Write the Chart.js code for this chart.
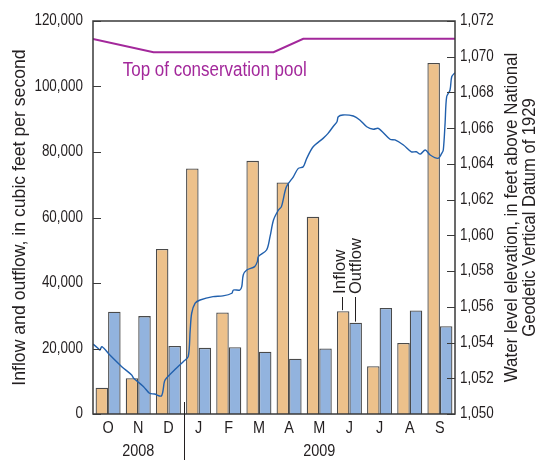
<!DOCTYPE html>
<html>
<head>
<meta charset="utf-8">
<script src="https://cdn.jsdelivr.net/npm/chart.js@4.4.1/dist/chart.umd.min.js"></script>
<style>
  html, body { margin: 0; padding: 0; background: #fff; }
  #wrap { width: 538px; height: 460px; position: relative; }
</style>
</head>
<body>
<div id="wrap"><canvas id="c" width="538" height="460"></canvas></div>
<script>
// Monthly flows, water year Oct 2008 - Sep 2009 (cubic feet per second)
const months  = ['O', 'N', 'D', 'J', 'F', 'M', 'A', 'M', 'J', 'J', 'A', 'S'];
const inflow  = [8000, 10900, 50400, 75000, 31000, 77300, 70700, 60200, 31400, 14600, 21700, 107200];
const outflow = [31200, 29900, 20800, 20200, 20400, 19000, 16900, 20000, 27900, 32400, 31600, 26800];

// Reservoir water level (day of water year, feet)
const levelDays = [0, 5, 7, 9, 17, 29, 39, 41, 51, 57, 62, 69, 72, 74, 84, 91, 96, 98, 99.5, 103, 108,
  121, 131, 140, 141.5, 148, 150, 151.5, 155, 163, 165.7, 166.7, 175, 178.5, 182, 187, 190, 195, 202,
  207, 212, 215.5, 222, 232, 237, 242, 246, 247.3, 252, 262.5, 269, 276, 282.6, 287.7, 299.5, 304.5,
  313, 321, 326, 330, 335, 340, 348, 351.6, 353.2, 355, 356.6, 360, 361.7, 365];
const levelFeet = [1053.92, 1053.68, 1053.58, 1053.77, 1053.30, 1052.65, 1052.18, 1052.00, 1051.53,
  1051.16, 1051.12, 1051.01, 1051.81, 1052.00, 1052.56, 1052.93, 1053.21, 1054.70, 1055.64, 1056.20,
  1056.38, 1056.57, 1056.61, 1056.76, 1056.94, 1056.94, 1057.13, 1057.78, 1058.06, 1058.25, 1058.53,
  1058.81, 1059.18, 1059.93, 1060.86, 1061.42, 1061.61, 1062.72, 1063.28, 1063.75, 1063.84, 1064.31,
  1064.96, 1065.43, 1065.71, 1066.08, 1066.36, 1066.64, 1066.74, 1066.68, 1066.46, 1066.08, 1065.94,
  1065.99, 1065.38, 1065.34, 1065.06, 1064.68, 1064.68, 1064.55, 1064.78, 1064.50, 1064.31, 1064.59,
  1064.78, 1066.27, 1067.76, 1068.14, 1068.88, 1069.11];

// Top of conservation pool (day of water year, feet)
const poolDays = [0, 61, 182, 212, 365];
const poolFeet = [1071, 1070.25, 1070.25, 1071, 1071];

// Year captions spanning month indexes
const yearLabels = ['2008', '2009'];
const yearSpans  = [[0, 2], [3, 11]];

const FONT = "'Liberation Sans', Arial, sans-serif";
const INK = '#231f20';
const AXIS = '#3a3a3a';
const PURPLE = '#a3289b';

const fmt = v => v.toLocaleString('en-US');
// shared time axis in months since 1 Oct 2008; bars sit at month centres
const dayToMonth = d => d * 12 / 365;
const monthCenter = i => i + 0.5;

// condensed text helper: squeezes glyphs along the writing direction
function txt(ctx, s, x, y, o) {
  ctx.save();
  ctx.translate(x, y);
  if (o.rot) ctx.rotate(o.rot);
  ctx.scale(o.sx || 1, 1);
  ctx.font = o.size + 'px ' + FONT;
  ctx.textAlign = o.align || 'center';
  ctx.textBaseline = o.base || 'middle';
  ctx.fillStyle = o.color || INK;
  ctx.fillText(s, 0, 0);
  ctx.restore();
}

const extras = {
  id: 'extras',
  afterDraw(chart) {
    const ctx = chart.ctx;
    const ca = chart.chartArea;
    const { x, y, y2 } = chart.scales;
    ctx.save();

    // frame
    ctx.strokeStyle = AXIS;
    ctx.lineWidth = 1.5;
    ctx.strokeRect(ca.left, ca.top, ca.right - ca.left, ca.bottom - ca.top);

    // inward tick marks and tick labels
    ctx.lineWidth = 1.2;
    ctx.beginPath();
    y.ticks.forEach(t => {
      const py = Math.round(y.getPixelForValue(t.value)) + 0.5;
      ctx.moveTo(ca.left, py); ctx.lineTo(ca.left + 8, py);
    });
    y2.ticks.forEach(t => {
      const py = Math.round(y2.getPixelForValue(t.value)) + 0.5;
      ctx.moveTo(ca.right - 8, py); ctx.lineTo(ca.right, py);
    });
    ctx.stroke();
    y.ticks.forEach(t => txt(ctx, fmt(t.value), ca.left - 10, y.getPixelForValue(t.value), { size: 16, sx: 0.84, align: 'right' }));
    y2.ticks.forEach(t => txt(ctx, fmt(t.value), ca.right + 5, y2.getPixelForValue(t.value), { size: 16, sx: 0.84, align: 'left' }));
    months.forEach((m, i) => txt(ctx, m, x.getPixelForValue(monthCenter(i)), 428.5, { size: 17, sx: 0.85 }));

    // pool caption
    txt(ctx, 'Top of conservation pool', x.getPixelForValue(dayToMonth(30)), y2.getPixelForValue(1069.25),
      { size: 19.5, sx: 0.87, align: 'left', color: PURPLE });

    // bar legend labels with leader lines (June group)
    const inBar = chart.getDatasetMeta(0).data[8];
    const outBar = chart.getDatasetMeta(1).data[8];
    const labelBase = 294;
    ctx.strokeStyle = INK;
    ctx.lineWidth = 1;
    ctx.beginPath();
    const lx1 = Math.round(inBar.x - 1) + 0.5, lx2 = Math.round(outBar.x - 1) + 0.5;
    ctx.moveTo(lx1, inBar.y - 1); ctx.lineTo(lx1, labelBase + 3);
    ctx.moveTo(lx2, outBar.y - 1); ctx.lineTo(lx2, labelBase + 3);
    ctx.stroke();
    txt(ctx, 'Inflow', inBar.x - 3, labelBase, { size: 17, sx: 1, align: 'left', rot: -Math.PI / 2 });
    txt(ctx, 'Outflow', outBar.x + 1, labelBase, { size: 17, sx: 0.97, align: 'left', rot: -Math.PI / 2 });

    // year captions and divider
    yearLabels.forEach((lab, i) => {
      const [a, b] = yearSpans[i];
      const cx = (x.getPixelForValue(a) + x.getPixelForValue(b + 1)) / 2;
      txt(ctx, lab, cx, 451.5, { size: 17, sx: 0.85 });
    });
    const divX = Math.round(x.getPixelForValue(yearSpans[1][0])) + 0.5;
    ctx.strokeStyle = INK;
    ctx.lineWidth = 1;
    ctx.beginPath();
    ctx.moveTo(divX, ca.bottom - 12); ctx.lineTo(divX, 460);
    ctx.stroke();

    // axis titles
    const midY = (ca.top + ca.bottom) / 2;
    txt(ctx, 'Inflow and outflow, in cubic feet per second', 20, midY, { size: 18, sx: 0.98, rot: -Math.PI / 2 });
    txt(ctx, 'Water level elevation, in feet above National', 512, midY, { size: 18, sx: 0.94, rot: -Math.PI / 2 });
    txt(ctx, 'Geodetic Vertical Datum of 1929', 530, midY, { size: 18, sx: 0.92, rot: -Math.PI / 2 });

    ctx.restore();
  }
};

new Chart(document.getElementById('c'), {
  type: 'bar',
  data: {
    datasets: [
      {
        label: 'Inflow', yAxisID: 'y', order: 1,
        data: inflow.map((v, i) => ({ x: monthCenter(i), y: v })),
        backgroundColor: '#edc18b', borderColor: '#4a4a4a', borderWidth: 1.3,
        borderSkipped: 'bottom', categoryPercentage: 0.83, barPercentage: 1.0
      },
      {
        label: 'Outflow', yAxisID: 'y', order: 1,
        data: outflow.map((v, i) => ({ x: monthCenter(i), y: v })),
        backgroundColor: '#92b3de', borderColor: '#4a4a4a', borderWidth: 1.3,
        borderSkipped: 'bottom', categoryPercentage: 0.83, barPercentage: 1.0
      },
      {
        type: 'line', label: 'Water level', yAxisID: 'y2', order: 0,
        data: levelDays.map((d, i) => ({ x: dayToMonth(d), y: levelFeet[i] })),
        borderColor: '#2160ad', borderWidth: 1.4, pointRadius: 0, tension: 0.3, fill: false
      },
      {
        type: 'line', label: 'Top of conservation pool', yAxisID: 'y2', order: 0,
        data: poolDays.map((d, i) => ({ x: dayToMonth(d), y: poolFeet[i] })),
        borderColor: PURPLE, borderWidth: 2, pointRadius: 0, tension: 0, fill: false
      }
    ]
  },
  options: {
    responsive: false,
    animation: false,
    devicePixelRatio: 1,
    layout: { padding: { top: 21, left: 0, right: 0, bottom: 0 } },
    plugins: { legend: { display: false }, tooltip: { enabled: false } },
    scales: {
      x: {
        type: 'linear', position: 'bottom', offset: false, min: 0, max: months.length,
        grid: { display: false, drawTicks: false, offset: false },
        border: { display: false },
        ticks: { display: false, stepSize: 1 },
        afterFit: s => { s.height = 46; }
      },
      y: {
        type: 'linear', position: 'left', min: 0, max: 120000,
        grid: { display: false, drawTicks: false },
        border: { display: false },
        ticks: { display: false, stepSize: 20000 },
        afterFit: s => { s.width = 93; }
      },
      y2: {
        type: 'linear', position: 'right', min: 1050, max: 1072,
        grid: { display: false, drawTicks: false },
        border: { display: false },
        ticks: { display: false, stepSize: 2 },
        afterFit: s => { s.width = 83; }
      }
    }
  },
  plugins: [extras]
});
</script>
</body>
</html>
